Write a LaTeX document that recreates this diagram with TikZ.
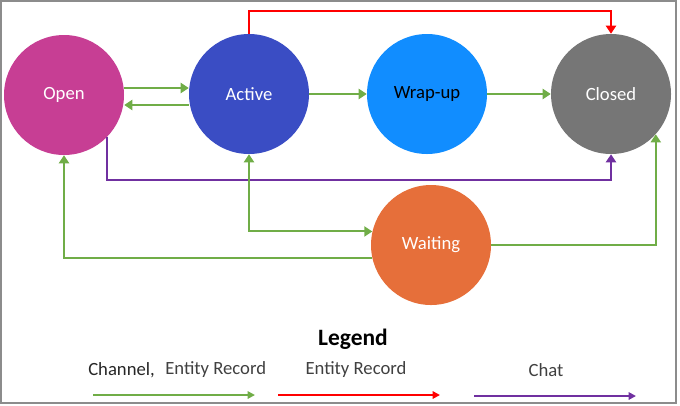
\documentclass[tikz,border=0pt]{standalone}
\usepackage{fontspec}
\setmainfont{Carlito}
\usetikzlibrary{arrows.meta,calc}
\definecolor{cOpen}{HTML}{C73E94}
\definecolor{cActive}{HTML}{3A4DC4}
\definecolor{cWrap}{HTML}{118DFF}
\definecolor{cClosed}{HTML}{767676}
\definecolor{cWait}{HTML}{E66F3A}
\definecolor{cGreen}{HTML}{70AD47}
\definecolor{cRed}{HTML}{FF0000}
\definecolor{cPurple}{HTML}{7030A0}
\definecolor{cText}{HTML}{404040}
\begin{document}
\begin{tikzpicture}[x=0.75pt,y=-0.75pt,
  state/.style={circle,minimum size=90pt,inner sep=0pt,font=\fontsize{14}{16}\selectfont,text=white},
  bigtip/.style={-{Triangle[length=6pt,width=7.5pt]}},
  smalltip/.style={-{Triangle[length=5.5pt,width=5.5pt]}},
  gline/.style={draw=cGreen,line width=1.5pt},
  rline/.style={draw=cRed,line width=1.5pt},
  pline/.style={draw=cPurple,line width=1.5pt},
  leg/.style={font=\fontsize{14}{16}\selectfont,text=cText,inner sep=0pt}]
\useasboundingbox (0,0) rectangle (680,405);
\draw[draw=gray!90,line width=1.2pt] (1,1) rectangle (676,403);

\node[state,fill=cOpen] (Open) at (64,95) {Open};
\node[state,fill=cActive] (Active) at (249,94) {Active};
\node[state,fill=cWrap,text=black] (Wrap) at (427,94) {Wrap-up};
\node[state,fill=cClosed] (Closed) at (611,94) {Closed};
\node[state,fill=cWait] (Waiting) at (431,245) {Waiting};

% Open <-> Active
\draw[gline,bigtip] (Open.east |- 0,88) -- (Active.west |- 0,88);
\draw[gline,bigtip] (Active.west |- 0,105) -- (Open.east |- 0,105);
% chain
\draw[gline,bigtip] (Active.east) -- (Wrap.west);
\draw[gline,bigtip] (Wrap.east) -- (Closed.west);
% red
\draw[rline,bigtip] (Active.north) -- ++(0,-23) -| (Closed.north);
% purple
\draw[pline,bigtip] (Open.-44.2) -- (Open.-44.2 |- 0,180) -| (Closed.south);
% Active <-> Waiting
\draw[gline,{Triangle[length=6pt,width=7.5pt]}-{Triangle[length=6pt,width=7.5pt]}] (Active.south) |- (Waiting.167.5);
% Waiting -> Open
\draw[gline,bigtip] (Waiting.192.5) -| (Open.south);
% Waiting -> Closed
\draw[gline,bigtip] (Waiting.east) -| (Closed.-42.8);

% Legend
\node[font=\bfseries\fontsize{17.6}{20}\selectfont,inner sep=0pt] (LegTitle) at (353,339) {Legend};
\node[leg,anchor=west,text=black!85] (L1a) at (88,370) {Channel,};
\node[leg,anchor=west] (L1b) at (165,370) {Entity Record};
\node[leg] (L2) at (356,370) {Entity Record};
\node[leg] (L3) at (546,370) {Chat};
\coordinate (g1) at (93,395); \coordinate (g2) at (255,395);
\coordinate (r1) at (278,395); \coordinate (r2) at (440,395);
\coordinate (p1) at (474,396); \coordinate (p2) at (636,396);
\draw[gline,smalltip] (g1) -- (g2);
\draw[rline,smalltip] (r1) -- (r2);
\draw[pline,smalltip] (p1) -- (p2);
\end{tikzpicture}
\end{document}
